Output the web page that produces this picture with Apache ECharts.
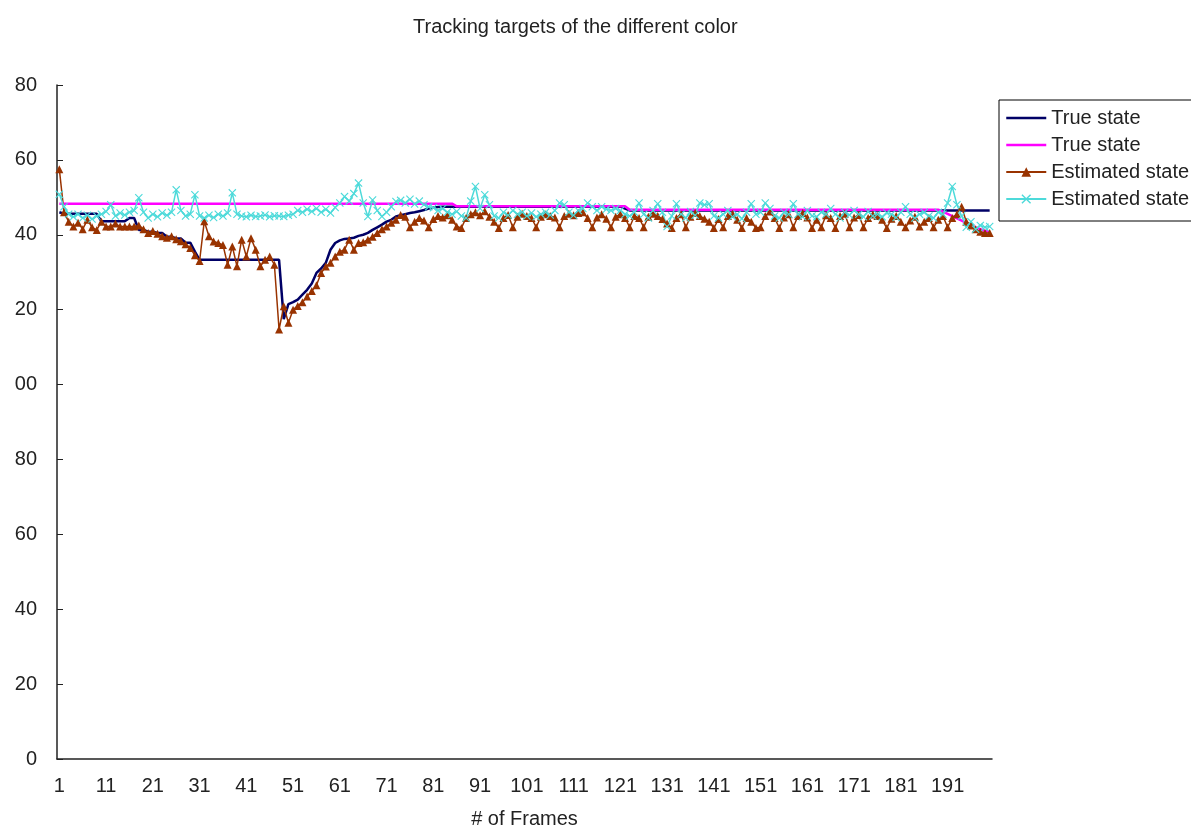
<!DOCTYPE html>
<html>
<head>
<meta charset="utf-8">
<script src="https://cdn.jsdelivr.net/npm/echarts@6/dist/echarts.min.js"></script>
<style>
html,body{margin:0;padding:0;background:#fff;}
#main{width:1191px;height:834px;}
</style>
</head>
<body>
<div id="main"></div>
<script>
// frame numbers 1..200
var frames = [];
for (var i = 1; i <= 200; i++) frames.push(String(i));

var yTicks = [0, 20, 40, 60, 80, 100, 120, 140, 160, 180];

var trueA = [
 146,145.6,145.6,145.6,145.6,145.6,145.6,145.6,145.6,
 143.6,143.6,143.6,143.6,143.6,143.6,
 144.5,144.5,141.3,141.3,140.8,140.8,140.5,140.5,139.5,139.5,139,139,137.9,137.9,135.5,
 133.3,133.3,133.3,133.3,133.3,133.3,133.3,133.3,133.3,133.3,133.3,133.3,133.3,133.3,133.3,133.3,133.3,133.3,
 117.5,121.5,
 122,122.7,124,125.3,127,129.8,131,132.5,136,137.8,138.5,138.9,139,139.2,139.7,140,
 140.5,141.3,142,142.7,143.5,144,144.9,145.2,145.5,145.8,146,146.3,146.6,147,147.2,147.4,
 147.5,147.5,147.5,147.5,147.5,147.5,147.5,147.5,147.5,147.5,147.5,147.5,147.5,
 147.5,147.5,147.5,147.5,147.5,147.5,147.5,147.5,147.5,147.5,147.5,147.5,147.5,
 147.5,147.5,147.5,147.5,147.5,147.5,147.5,147.5,147.5,147.5,147.5,147.5,147.5,
 147,
 146.5,146.5,146.5,146.5,146.5,146.5,146.5,146.5,146.5,146.5,146.5,146.5,146.5,
 146.5,146.5,146.5,146.5,146.5,146.5,146.5,146.5,146.5,146.5,146.5,146.5,146.5,
 146.5,146.5,146.5,146.5,146.5,146.5,146.5,146.5,146.5,146.5,146.5,146.5,146.5,
 146.5,146.5,146.5,146.5,146.5,146.5,146.5,146.5,146.5,146.5,146.5,146.5,146.5,
 146.5,146.5,146.5,146.5,146.5,146.5,146.5,146.5,146.5,146.5,146.5,146.5,146.5,
 146.5,146.5,146.5,146.5,146.5,146.5,146.5,146.5,146.5,146.5,146.5,146.5,146.5
];

var trueB = [
 148.3,148.3,148.3,148.3,148.3,148.3,148.3,148.3,148.3,148.3,148.3,148.3,148.3,148.3,148.3,148.3,148.3,
 148.3,148.3,148.3,148.3,148.3,148.3,148.3,148.3,148.3,148.3,148.3,148.3,148.3,148.3,148.3,148.3,148.3,
 148.3,148.3,148.3,148.3,148.3,148.3,148.3,148.3,148.3,148.3,148.3,148.3,148.3,148.3,148.3,148.3,148.3,
 148.3,148.3,148.3,148.3,148.3,148.3,148.3,148.3,148.3,148.3,148.3,148.3,148.3,148.3,148.3,148.3,148.3,
 148.3,148.3,148.3,148.3,148.3,148.3,148.3,148.3,148.3,148.3,148.3,148.3,148.3,148.3,148.3,148.3,148.3,
 147.6,147.6,147.6,147.6,147.6,147.6,147.6,147.6,147.6,147.6,147.6,147.6,147.6,147.6,147.6,147.6,147.6,147.6,147.6,
 147.6,147.6,147.6,147.6,147.6,147.6,147.6,147.6,147.6,147.6,147.6,147.6,147.6,147.6,147.6,147.6,147.6,147.6,
 146.7,146.7,146.7,146.7,146.7,146.7,146.7,146.7,146.7,146.7,146.7,146.7,146.7,146.7,146.7,146.7,146.7,146.7,146.7,146.7,
 146.7,146.7,146.7,146.7,146.7,146.7,146.7,146.7,146.7,146.7,146.7,146.7,146.7,146.7,146.7,146.7,146.7,146.7,146.7,146.7,
 146.7,146.7,146.7,146.7,146.7,146.7,146.7,146.7,146.7,146.7,146.7,146.7,146.7,146.7,146.7,146.7,146.7,146.7,146.7,146.7,
 146.7,146.7,146.7,146.7,146.7,146.7,146.7,
 146.2,145.6,145,144.4,143.8,143.2,142.6,142,141.5,141,140.8
];

var estA = [
 157.5,146,143.5,142.2,143.2,141.5,144,142,141.3,143.5,
 142.2,142.2,143,142.2,142.2,142.2,142.2,142.5,141.5,140.5,
 141,140.3,139.6,139.2,139.6,138.8,138.3,137.5,136.5,134.5,
 133,143.6,139.6,138.2,137.8,137.3,132,136.9,131.6,138.7,
 134.2,139.1,136,131.6,133.3,134.2,132,114.7,120.9,116.5,
 120,121,122,123.5,125,126.5,129.8,131.5,132.5,134.2,
 135.5,136,138.7,136,137.8,138,138.7,139.5,140.5,141.5,
 142.2,143.2,144,145.3,144.8,142,143.5,144.5,143.8,142,
 144.2,145,144.6,145.2,144,142.2,141.8,144.5,145.5,146,
 145.2,146.3,144.8,143.5,141.8,144.5,145.3,142,144.8,145.6,
 145,144.5,142,144.8,145.5,145,144.6,142,145,145.6,
 145.2,145.8,146,144.5,142,144.6,145.5,144.3,142,144.8,
 145.5,144.5,142,145,144.5,142,144.8,145.6,145,144.2,
 143,141.8,144.5,145.5,142,144.8,145.8,145,144.3,143.5,
 141.8,144.2,142,145,145.6,144,141.8,144.5,143.5,141.8,
 142,145,146.2,144.5,141.8,144.6,145.5,142,145,145.8,
 144.6,141.8,144,142,145.2,144.5,141.8,145,145.6,142,
 144.6,145.3,142,144.5,145.4,145,144,141.8,144.3,145,
 143.5,142,143.8,144.8,142.2,143.5,144.5,142,144,145,
 142,144.5,145.5,147.5,143.5,142.5,141.5,140.8,140.5,140.5
];

var estB = [
 150.8,147.5,145.5,144.8,145.5,144.5,145.2,144.2,145,145.5,
 146.2,148,145,145.8,145.3,146,146.5,149.9,146,144.5,
 145.5,144.8,145.8,145.2,146,152,146.5,145,145.5,150.7,
 145,144.5,145.2,144.6,145.5,145,145.8,151.2,145.5,145,
 144.8,145.2,144.9,145,145.3,144.8,145.1,145,144.9,145.2,
 145.5,146.5,146,146.8,146.2,147,146,146.8,145.8,147.3,
 148.5,150.2,149,151,153.8,148.5,144.9,149.3,146.5,144.9,
 146,147.5,148.9,149.2,148.5,149.5,148.2,149,148,147.5,
 147.2,146.5,147,146,145.5,146.2,145,144.5,149,152.9,
 147,150.7,148,145,144.5,146,145.2,146.5,145.5,146,
 145,145.8,144.8,145.5,146,145.3,146.5,148.5,148,146,
 145.2,146.5,147,148.5,147.5,146.5,147.5,146.8,146.5,147,
 146.5,145.5,145,146,148.5,145.5,144.5,146.5,148.3,146,
 142.2,145,148.3,145.5,144.5,146.2,145.2,148.5,148,148.3,
 145,144.5,145.5,146.5,144.8,145.5,144.3,146,148.3,145.5,
 146,148.5,147,145,144.5,146,145.5,148.3,145.5,144.8,
 146.5,145,144.8,146,145.5,147,145.5,144.5,146,145.3,
 146.5,145.5,144.8,146.2,145,145.5,144.8,145.8,145.5,144.6,
 146,147.5,145.5,144.5,145.5,146,145,144.5,146,145.5,
 148.5,152.9,148,145,142,143.5,141.5,142.5,142,142.2
];

var xMark = 'path://M0,1L1,0L5,4L9,0L10,1L6,5L10,9L9,10L5,6L1,10L0,9L4,5Z';
var font = 'Liberation Sans';

var chart = echarts.init(document.getElementById('main'));
chart.setOption({
    backgroundColor: '#fff',
    animation: false,
    textStyle: {fontFamily: font},
    title: {
        text: 'Tracking targets of the different color',
        left: 408,
        top: 12,
        textStyle: {fontSize: 20, fontWeight: 'normal', color: '#222', fontFamily: font}
    },
    legend: {
        orient: 'vertical',
        left: 999,
        top: 100,
        padding: [8, 10, 12, 6],
        itemWidth: 40,
        itemHeight: 12,
        itemGap: 7,
        borderColor: '#000',
        borderWidth: 1,
        backgroundColor: '#fff',
        textStyle: {fontSize: 20, color: '#222', fontFamily: font, lineHeight: 20},
        data: [
            {name: 'True state', itemStyle: {opacity: 0}, lineStyle: {width: 2.5}},
            {name: 'True state ', itemStyle: {opacity: 0}, lineStyle: {width: 2.5}},
            {name: 'Estimated state'},
            {name: 'Estimated state '}
        ]
    },
    grid: {left: 57, right: 199, top: 85, bottom: 74},
    xAxis: {
        type: 'category',
        data: frames,
        boundaryGap: true,
        name: '# of Frames',
        nameLocation: 'middle',
        nameGap: 50,
        nameTextStyle: {fontSize: 20, color: '#222'},
        axisLine: {lineStyle: {color: '#222', width: 1.5}},
        axisTick: {inside: true, length: 6, interval: 0, lineStyle: {color: '#222', width: 1}},
        axisLabel: {interval: 9, margin: 17, fontSize: 20, color: '#222'},
        splitLine: {show: false}
    },
    yAxis: {
        type: 'value',
        min: yTicks[0],
        max: yTicks[yTicks.length - 1],
        interval: 20,
        axisLine: {show: true, lineStyle: {color: '#222', width: 1.5}},
        axisTick: {show: true, inside: true, length: 6, lineStyle: {color: '#222'}},
        axisLabel: {
            margin: 20, fontSize: 20, color: '#222',
            formatter: function (v) {
                if (v === 0) return '0';
                var s = String(v % 100);
                return s.length < 2 ? '0' + s : s;
            }
        },
        splitLine: {show: false}
    },
    series: [
        {
            name: 'True state', type: 'line', data: trueA,
            symbol: 'none', color: '#000066',
            lineStyle: {color: '#000066', width: 2.5}
        },
        {
            name: 'True state ', type: 'line', data: trueB,
            symbol: 'none', color: '#ff00ff',
            lineStyle: {color: '#ff00ff', width: 2.5}
        },
        {
            name: 'Estimated state', type: 'line', data: estA,
            symbol: 'triangle', symbolSize: 8, showAllSymbol: true, color: '#993300',
            lineStyle: {color: '#993300', width: 1.5},
            itemStyle: {color: '#993300'}
        },
        {
            name: 'Estimated state ', type: 'line', data: estB,
            symbol: xMark, symbolSize: 8, showAllSymbol: true, color: '#4ddada',
            lineStyle: {color: '#4ddada', width: 1.5},
            itemStyle: {color: '#4ddada'}
        }
    ]
});
</script>
</body>
</html>
